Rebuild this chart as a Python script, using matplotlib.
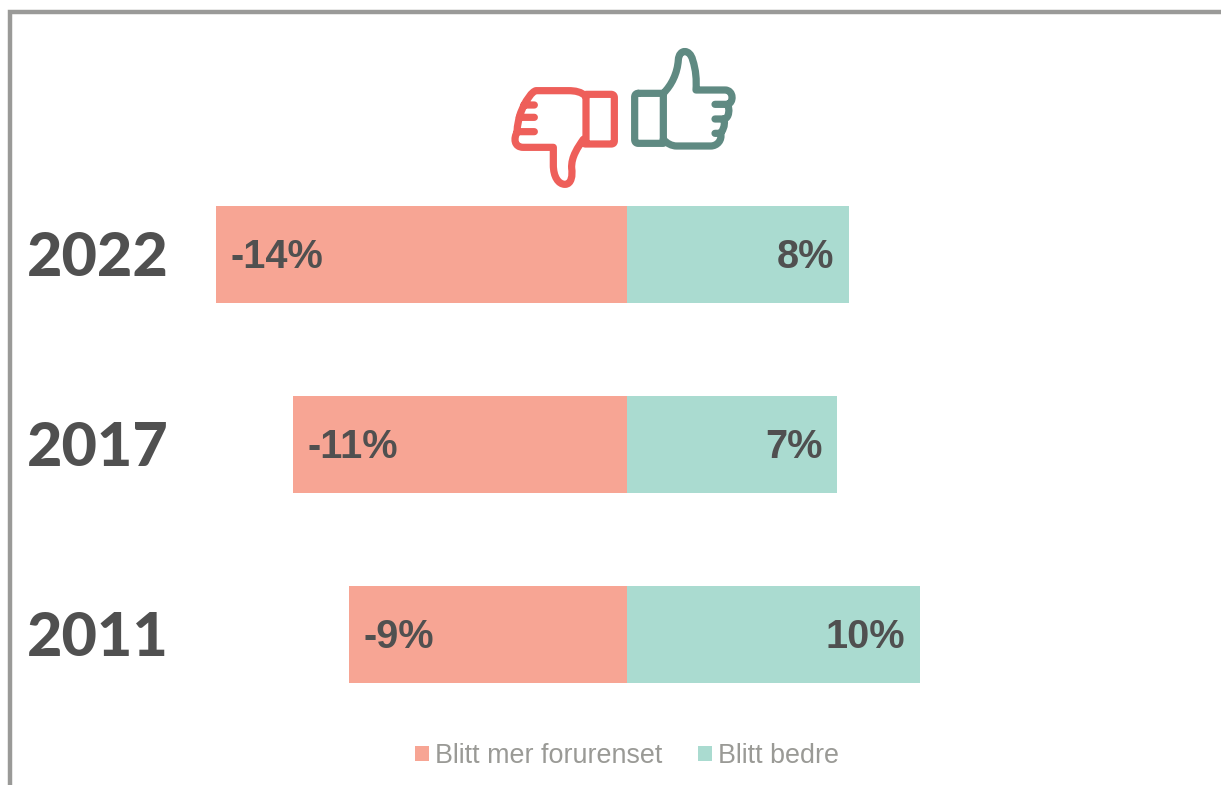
import matplotlib
matplotlib.use("Agg")
import matplotlib.pyplot as plt
from matplotlib.lines import Line2D
from matplotlib.patches import PathPatch
from matplotlib.path import Path

W, H = 1221, 785
years = ["2022", "2017", "2011"]
worse = [-13.9, -11.3, -9.4]
better = [7.5, 7.1, 9.9]
series_names = ["Blitt mer forurenset", "Blitt bedre"]

RED, GREEN = "#F7A594", "#AADBD0"
DARK = "#505050"
GREY = "#9A9A96"

fig = plt.figure(figsize=(W / 100, H / 100), dpi=100, facecolor="white")
ax = fig.add_axes([0, 0, 1, 1])
pxu = 29.55
x0 = 627
py = 190
ax.set_xlim(-x0 / pxu, (W - x0) / pxu)
ax.set_ylim((H - 254.5) / py, -254.5 / py)
ax.axis("off")

pos = range(len(years))
b1 = ax.barh(pos, worse, height=0.51, color=RED, label=series_names[0])
b2 = ax.barh(pos, better, height=0.51, color=GREEN, label=series_names[1])

valfont = dict(family="Liberation Sans", fontweight="bold", fontsize=28.6, color=DARK, va="center")
pad = 14.5 / pxu
for i, (a, b) in enumerate(zip(worse, better)):
    ax.text(a + pad, i + 2.5 / py, f"{a:.0f}%", ha="left", **valfont)
    ax.text(b - pad, i + 2.5 / py, f"{b:.0f}%", ha="right", **valfont)
    ax.text(-x0 / pxu + 97.5 / pxu, i + 4 / py, years[i], ha="center", va="center", family="Lato",
            fontweight=900, fontsize=44, color=DARK)

leg = ax.legend(handles=[b1, b2], loc="center", bbox_to_anchor=(627 / W, 1 - 756 / H), ncol=2,
                frameon=False, prop={"family": "Liberation Sans", "size": 19.4},
                labelcolor=GREY, handlelength=0.52, handleheight=0.52, handletextpad=0.22,
                columnspacing=1.3, borderpad=0)

# Picture frame (top and left edges only)
fig.add_artist(Line2D([10.4 / W, 10.4 / W, 1], [0, 1 - 11.7 / H, 1 - 11.7 / H], color="#9A9A98",
                      lw=3.2, solid_joinstyle="miter", transform=fig.transFigure))

# Thumb icons drawn in the zoom-grid pixel space of the picture
ov = fig.add_axes([0, 0, 1, 1], facecolor="none")
ov.set_xlim(0, W); ov.set_ylim(H, 0); ov.axis("off")

def zp(x, y):
    return (500 + x / 3, 40 + y / 3)

def draw(cmds, color):
    v, c = [], []
    for code, pts in cmds:
        for p in pts:
            v.append(zp(*p)); c.append(code)
    ov.add_patch(PathPatch(Path(v, c), fill=False, ec=color, lw=5.2, capstyle="round", joinstyle="round"))

M, L, C = Path.MOVETO, Path.LINETO, Path.CURVE4
TEAL, CORAL = "#5F8A82", "#EE5F5A"
up = [
    (M, [(415, 160)]), (L, [(490, 160), (490, 310), (415, 310)]),
    (C, [(407, 310), (404, 305), (404, 298)]), (L, [(404, 172)]), (C, [(404, 165), (407, 160), (415, 160)]),
    (M, [(490, 160)]), (C, [(515, 135), (532, 100), (535, 60)]),
    (C, [(537, 26), (570, 26), (578, 60)]), (C, [(588, 90), (590, 120), (588, 150)]),
    (L, [(675, 150)]), (C, [(702, 150), (702, 190), (682, 193)]), (L, [(645, 193)]),
    (M, [(682, 193)]), (C, [(690, 205), (688, 235), (672, 237)]), (L, [(645, 237)]),
    (M, [(672, 237)]), (C, [(677, 255), (667, 280), (657, 280)]), (L, [(645, 280)]),
    (M, [(662, 280)]), (C, [(667, 300), (652, 318), (632, 318)]), (L, [(530, 318)]),
    (C, [(515, 318), (500, 310), (490, 298)]),
]
down = [
    (M, [(262, 163)]), (L, [(333, 163)]), (C, [(340, 163), (343, 167), (343, 173)]), (L, [(343, 302)]),
    (C, [(343, 309), (340, 312), (333, 312)]), (L, [(255, 312)]), (M, [(258, 163)]), (L, [(258, 305)]),
    (M, [(258, 170)]), (C, [(245, 155), (225, 152), (205, 152)]), (L, [(108, 152)]),
    (C, [(95, 155), (80, 180), (72, 195)]), (L, [(103, 195)]),
    (M, [(72, 195)]), (C, [(68, 205), (60, 220), (58, 232)]), (L, [(103, 232)]),
    (M, [(58, 232)]), (C, [(55, 245), (50, 265), (52, 275)]), (L, [(103, 275)]),
    (M, [(52, 275)]), (C, [(40, 295), (42, 322), (70, 322)]), (L, [(160, 322)]),
    (L, [(160, 375)]), (C, [(160, 410), (175, 433), (195, 433)]),
    (C, [(215, 433), (218, 405), (215, 385)]), (C, [(213, 350), (235, 320), (250, 298)]),
]
draw(up, TEAL)
draw(down, CORAL)

fig.savefig("out.png", dpi=100, facecolor="white")
